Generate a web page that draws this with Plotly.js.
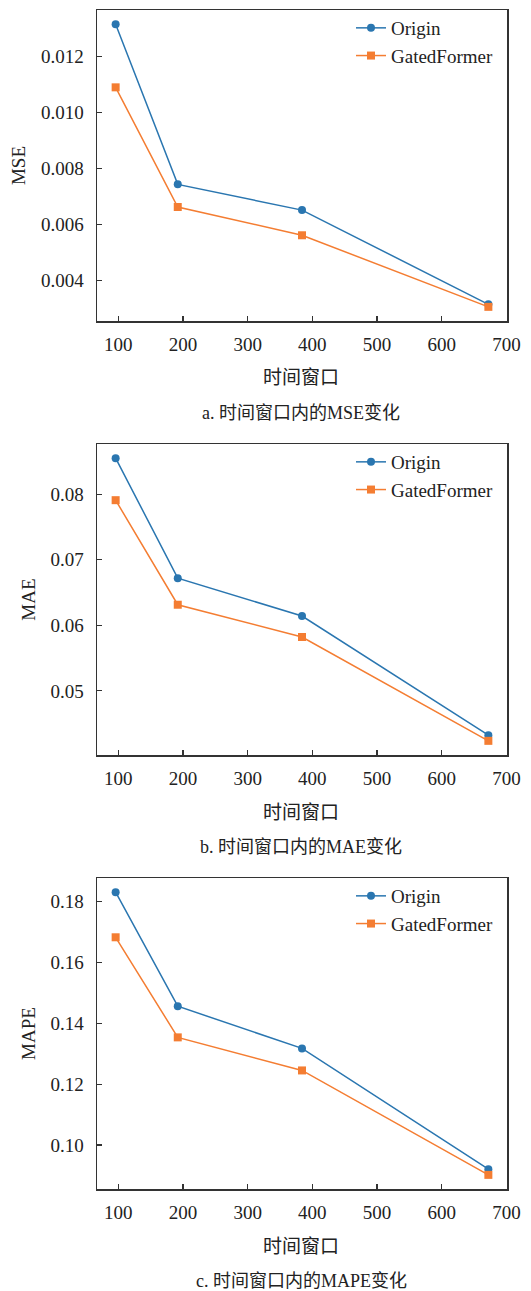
<!DOCTYPE html>
<html><head><meta charset="utf-8">
<script src="https://cdn.plot.ly/plotly-3.0.1.min.js"></script>
<style>body{margin:0;background:#fff}#chart{width:531px;height:1291px}</style>
</head><body><div id="chart"></div>
<script>
const windows = [96, 192, 384, 672];
const mseOrigin = [0.01316, 0.00743, 0.00651, 0.00314];
const mseGated = [0.01090, 0.00662, 0.00561, 0.00305];
const maeOrigin = [0.0855, 0.0672, 0.06142, 0.04325];
const maeGated = [0.07909, 0.06314, 0.05822, 0.04238];
const mapeOrigin = [0.18306, 0.1456, 0.13175, 0.0921];
const mapeGated = [0.16823, 0.13537, 0.12451, 0.09022];
const seriesNames = ['Origin', 'GatedFormer'];
const metricNames = ['MSE', 'MAE', 'MAPE'];
const captions = ['a. 时间窗口内的MSE变化', 'b. 时间窗口内的MAE变化', 'c. 时间窗口内的MAPE变化'];
const xTitle = '时间窗口';
const xTicks = [100, 200, 300, 400, 500, 600, 700];

const H = 1291, W = 531;
const FONT = 'Liberation Serif, Noto Sans CJK SC, serif';
const blue = '#2a76b0', orange = '#f47d32';
const data = [[mseOrigin, mseGated], [maeOrigin, maeGated], [mapeOrigin, mapeGated]];
const panels = [[10, 321], [444, 755], [878, 1189]];
const yRanges = [[0.002544, 0.013666], [0.04022, 0.08766], [0.08558, 0.1877]];
const yDtick = [0.002, 0.01, 0.02];
const yFmt = ['.3f', '.2f', '.2f'];

const traces = [];
const layout = {
  width: W, height: H, margin: {l: 0, r: 0, t: 0, b: 0},
  paper_bgcolor: '#fff', plot_bgcolor: '#fff',
  font: {family: FONT, size: 19, color: '#222'},
  annotations: [], showlegend: true
};
const py = p => 1 - p / H;
for (let i = 0; i < 3; i++) {
  const s = i === 0 ? '' : String(i + 1);
  const lg = i === 0 ? 'legend' : 'legend' + (i + 1);
  traces.push({x: windows, y: data[i][0], name: seriesNames[0], type: 'scatter', mode: 'lines+markers',
    xaxis: 'x' + s, yaxis: 'y' + s, legend: lg,
    line: {color: blue, width: 1.5}, marker: {symbol: 'circle', size: 8, color: blue}});
  traces.push({x: windows, y: data[i][1], name: seriesNames[1], type: 'scatter', mode: 'lines+markers',
    xaxis: 'x' + s, yaxis: 'y' + s, legend: lg,
    line: {color: orange, width: 1.5}, marker: {symbol: 'square', size: 8, color: orange}});
  const [top, bot] = panels[i];
  layout['xaxis' + s] = {
    domain: [97 / W, 507 / W], range: [67.2, 700.8], anchor: 'y' + s,
    tickvals: xTicks, ticks: 'inside', ticklen: 5, tickwidth: 1.2, tickcolor: '#333',
    showline: true, mirror: true, linecolor: '#333', linewidth: 1.5,
    showgrid: false, zeroline: false, ticklabelstandoff: 6,
    tickfont: {family: FONT, size: 19, color: '#222'}
  };
  layout['yaxis' + s] = {
    domain: [py(bot), py(top)], range: yRanges[i], anchor: 'x' + s,
    dtick: yDtick[i], tick0: 0, tickformat: yFmt[i],
    ticks: 'inside', ticklen: 5, tickwidth: 1.2, tickcolor: '#333',
    showline: true, mirror: true, linecolor: '#333', linewidth: 1.5,
    showgrid: false, zeroline: false, ticklabelstandoff: 8,
    tickfont: {family: FONT, size: 19, color: '#222'},
    title: {text: metricNames[i], font: {family: FONT, size: 19, color: '#222'}, standoff: 10}
  };
  layout[lg] = {
    x: 351 / W, y: py(top - 1), xanchor: 'left', yanchor: 'top',
    bgcolor: 'rgba(0,0,0,0)', borderwidth: 0,
    font: {family: FONT, size: 19, color: '#222'}, tracegroupgap: 0, itemwidth: 30
  };
  layout.annotations.push({text: xTitle, xref: 'paper', yref: 'paper', x: 301 / W, y: py(bot + 57),
    xanchor: 'center', yanchor: 'middle', showarrow: false, font: {family: FONT, size: 19, color: '#222'}});
  layout.annotations.push({text: captions[i], xref: 'paper', yref: 'paper', x: 301 / W, y: py(bot + 92),
    xanchor: 'center', yanchor: 'middle', showarrow: false, font: {family: FONT, size: 18, color: '#222'}});
}
Plotly.newPlot('chart', traces, layout, {displayModeBar: false, staticPlot: true});
</script>
</body></html>
